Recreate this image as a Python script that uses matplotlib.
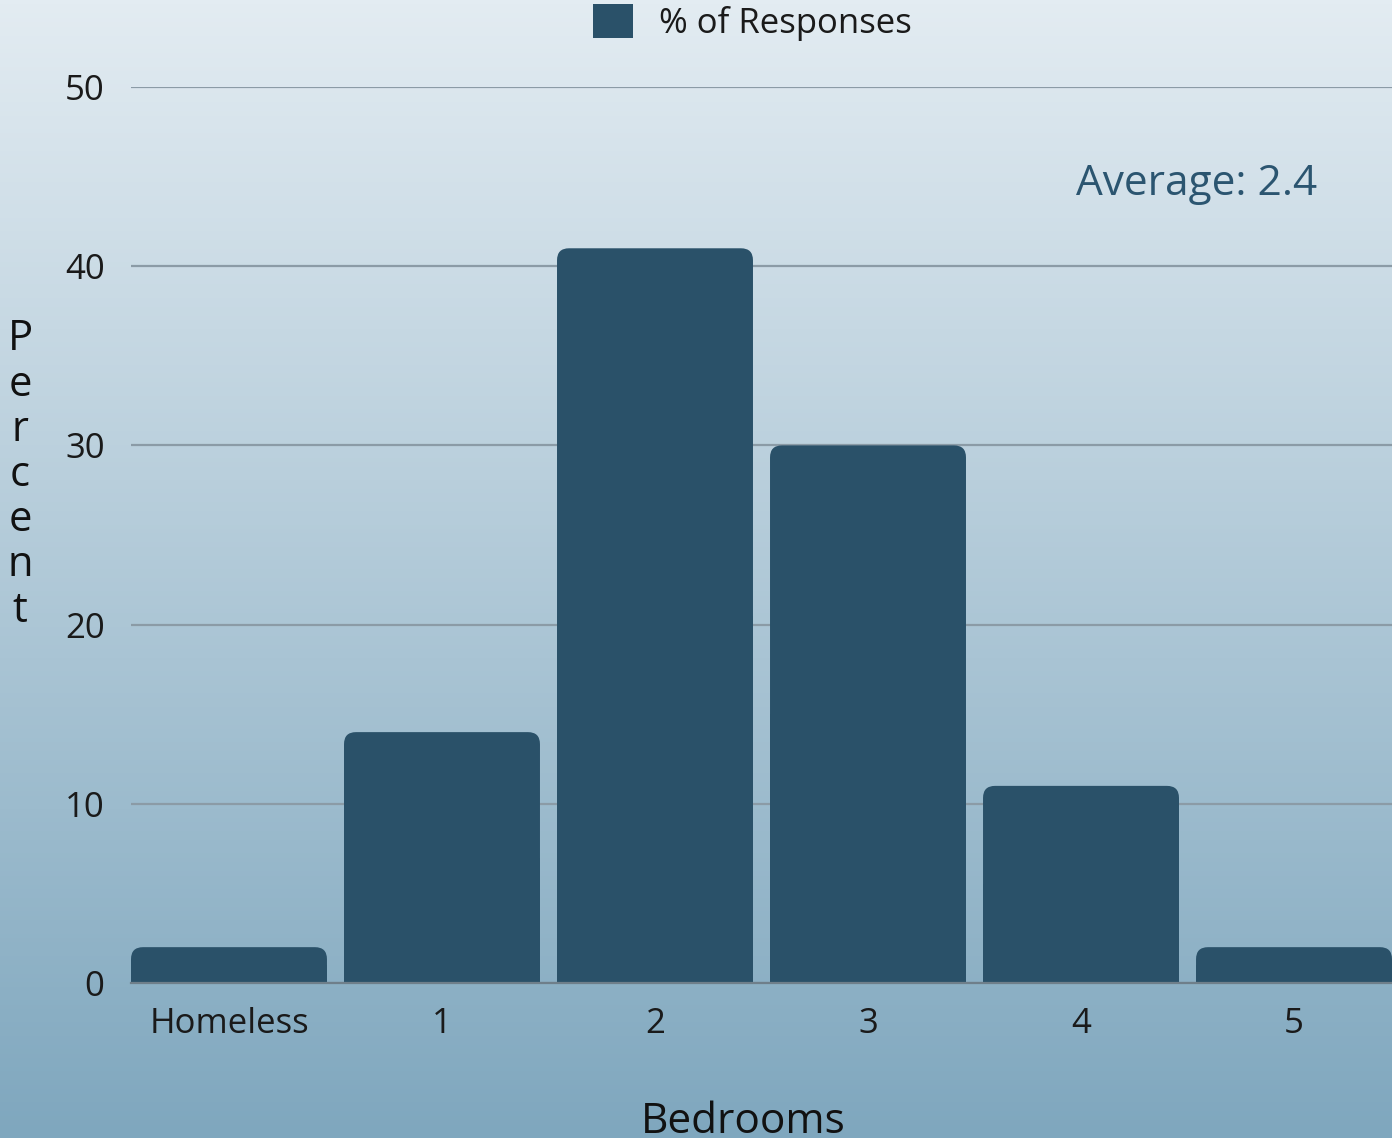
import matplotlib
matplotlib.use("Agg")
import matplotlib.pyplot as plt
import numpy as np
from matplotlib.colors import LinearSegmentedColormap
from matplotlib.patches import FancyBboxPatch, Rectangle, Patch

categories = ["Homeless", "1", "2", "3", "4", "5"]
percent = [2, 14, 41, 30, 11, 2]
yticks = [0, 10, 20, 30, 40, 50]
average_label = "Average: 2.4"

BAR = "#2a5169"
GRID = "#8b9ba6"
plt.rcParams["font.family"] = ["Open Sans", "DejaVu Sans"]

W, H = 1392, 1138
fig = plt.figure(figsize=(W / 100, H / 100), dpi=100)

# background gradient
bg = fig.add_axes([0, 0, 1, 1], zorder=-10)
cmap = LinearSegmentedColormap.from_list("bg", ["#e3ecf2", "#7fa7be"])
bg.imshow(np.linspace(0, 1, 256).reshape(-1, 1), aspect="auto", cmap=cmap,
          extent=[0, 1, 0, 1], origin="upper")
bg.axis("off")

ax = fig.add_axes([131 / W, 1 - 983 / H, 1 - 131 / W, (983 - 87) / H])
ax.patch.set_alpha(0)
x = np.arange(len(categories))
width = 0.92
ax.set_xlim(-width / 2, len(categories) - 1 + width / 2)
ax.set_ylim(0, 50)

bars = ax.bar(x, percent, width=width, color=BAR, zorder=3)
# rounded top corners: replace each bar by a rounded box + square base
px_x = ax.get_window_extent().width / (ax.get_xlim()[1] - ax.get_xlim()[0])
px_y = ax.get_window_extent().height / (ax.get_ylim()[1] - ax.get_ylim()[0])
r = 12 / px_x
for b in bars:
    bx, bw, bh = b.get_x(), b.get_width(), b.get_height()
    b.set_visible(False)
    ax.add_patch(FancyBboxPatch((bx, 0), bw, bh,
                                boxstyle=f"round,pad=0,rounding_size={r}",
                                mutation_aspect=px_x / px_y,
                                fc=BAR, ec="none", zorder=3))
    ax.add_patch(Rectangle((bx, 0), bw, bh / 2, fc=BAR, ec="none", zorder=3))

ax.set_yticks(yticks)
ax.set_xticks(x)
ax.set_xticklabels(categories)
ax.tick_params(axis="both", length=0, labelsize=25, colors="#1a1a1a")
ax.tick_params(axis="y", pad=19)
ax.tick_params(axis="x", pad=17)
ax.grid(axis="y", color=GRID, lw=1.6, zorder=0)
ax.set_axisbelow(True)
for s in ["top", "right", "left"]:
    ax.spines[s].set_visible(False)
ax.spines["bottom"].set_color("#6f7f8a")
ax.spines["bottom"].set_linewidth(1.6)
ax.spines["bottom"].set_zorder(4)

ax.text(0.845, 44.6, average_label, transform=ax.get_yaxis_transform(),
        ha="center", va="center", fontsize=30.5, color="#2b5570")

fig.text(20 / W, 1 - 475 / H, "\n".join("Percent"), ha="center", va="center",
         fontsize=30, linespacing=1.1, color="#111111")
fig.text(743 / W, 1 - 1122 / H, "Bedrooms", ha="center", va="center",
         fontsize=30.5, color="#111111")

fig.legend(handles=[Patch(fc=BAR, ec="none", label="% of Responses")],
           loc="upper center", bbox_to_anchor=(752 / W, 1.024), frameon=False,
           fontsize=25, handlelength=1.15, handleheight=1.15,
           handletextpad=0.75, labelcolor="#1a1a1a")

fig.savefig("out.png", dpi=100)
